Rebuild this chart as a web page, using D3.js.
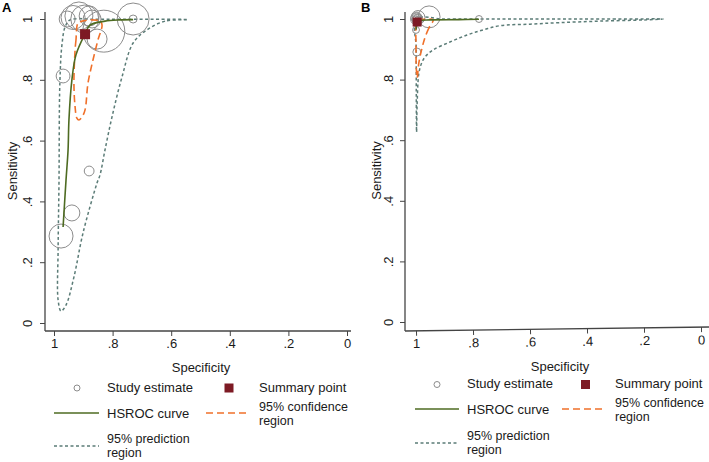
<!DOCTYPE html>
<html>
<head>
<meta charset="utf-8">
<script src="https://cdn.jsdelivr.net/npm/d3@7"></script>
<style>
html,body{margin:0;padding:0;background:#fff;}
svg{display:block;font-family:"Liberation Sans",Arial,sans-serif;}
</style>
</head>
<body>
<svg id="chart" width="709" height="462"></svg>
<script>
// ---------- DATA ----------
const tickValues = [0, 0.2, 0.4, 0.6, 0.8, 1];
const tickLabels = ["0", ".2", ".4", ".6", ".8", "1"];
const xTitle = "Specificity";
const yTitle = "Sensitivity";
const legendLabels = ["Study estimate", "Summary point", "HSROC curve", "95% confidence region", "95% prediction region"];

// Panel A
const studyA_spec   = [0.969, 0.880, 0.939, 0.976, 0.730, 0.730, 0.830, 0.853, 0.955, 0.935, 0.915, 0.895, 0.870, 0.880];
const studyA_sens   = [0.8125, 0.50, 0.362, 0.286, 1.000, 1.000, 0.960, 0.934, 1.000, 1.005, 1.010, 1.000, 1.000, 1.010];
const studyA_weight = [12, 6, 16, 36, 64, 4, 110, 25, 16, 36, 49, 49, 20, 25];
const summaryA = {spec: 0.894, sens: 0.950};
const hsrocA_spec = [0.969, 0.959, 0.952, 0.949, 0.939, 0.925, 0.894, 0.877, 0.826, 0.775, 0.730];
const hsrocA_sens = [0.316, 0.470, 0.569, 0.668, 0.799, 0.882, 0.951, 0.980, 0.993, 0.997, 0.998];
const confA_spec = [0.918, 0.925, 0.928, 0.932, 0.928, 0.922, 0.915, 0.904, 0.894, 0.884, 0.867, 0.850, 0.836, 0.843, 0.877, 0.904];
const confA_sens = [0.987, 0.931, 0.898, 0.789, 0.711, 0.674, 0.668, 0.678, 0.701, 0.789, 0.865, 0.931, 0.980, 0.993, 0.997, 0.993];
const predA_spec = [0.543, 0.621, 0.683, 0.730, 0.768, 0.802, 0.826, 0.843, 0.853, 0.901, 0.932, 0.959, 0.976, 0.986, 0.986, 0.983, 0.980, 0.973, 0.962, 0.945, 0.860, 0.775, 0.660];
const predA_sens = [0.998, 0.993, 0.964, 0.921, 0.809, 0.678, 0.569, 0.487, 0.461, 0.296, 0.151, 0.059, 0.039, 0.076, 0.240, 0.461, 0.789, 0.914, 0.974, 0.997, 0.999, 0.999, 0.999];

// Panel B
const studyB_spec   = [0.998, 0.995, 1.000, 0.993, 0.990, 0.996, 0.998, 0.992, 0.997, 0.954, 0.779, 1.000, 0.997];
const studyB_sens   = [1.000, 0.998, 0.997, 1.005, 0.995, 1.000, 0.995, 0.998, 1.008, 1.007, 1.000, 0.964, 0.891];
const studyB_weight = [9, 6, 4, 12, 2, 6, 2, 3, 5, 30, 3, 3, 4];
const summaryB = {spec: 0.996, sens: 0.990};
const hsrocB_spec = [0.999, 0.997, 0.990, 0.950, 0.850, 0.779];
const hsrocB_sens = [0.965, 0.990, 0.995, 0.997, 0.998, 0.999];
const confB_spec = [0.940, 0.955, 0.968, 0.980, 0.990, 0.996, 0.999, 1.000, 0.999, 0.990, 0.970];
const confB_sens = [0.997, 0.970, 0.940, 0.900, 0.855, 0.805, 0.840, 0.920, 0.980, 0.996, 0.999];
const predB_spec = [0.133, 0.300, 0.500, 0.700, 0.900, 0.998, 0.999, 0.999, 0.998, 0.996, 0.990, 0.980, 0.968, 0.940, 0.881, 0.821, 0.765, 0.705, 0.600, 0.495, 0.354, 0.200];
const predB_sens = [1.000, 1.000, 1.000, 1.000, 1.000, 1.000, 0.900, 0.750, 0.627, 0.720, 0.820, 0.855, 0.875, 0.898, 0.924, 0.947, 0.964, 0.978, 0.983, 0.988, 0.993, 0.997];

// ---------- STYLE ----------
const C = {
  text: "#1a1a1a", axis: "#444", circle: "#8c8c8c",
  hsroc: "#4e6b22", conf: "#f0702a", pred: "#5b7c77", summary: "#7d1a24"
};

const svg = d3.select("#chart");
const zip = (a, b) => a.map((v, i) => [v, b[i]]);
const rScale = d3.scaleSqrt().domain([0, 100]).range([0, 20]);

const panels = [
  {
    label: "A", lx: 2, ly: 12,
    xr: [54, 347], yr: [323, 19], axX: 45, axY: 331, yTop: 12, xRight: 351, tilt: 0,
    yLabX: 17, xLabX: 201, xLabY: 371.5, tickLabOff: 13,
    study: {spec: studyA_spec, sens: studyA_sens, w: studyA_weight},
    summary: summaryA, sq: 10,
    hsroc: zip(hsrocA_spec, hsrocA_sens), conf: zip(confA_spec, confA_sens), pred: zip(predA_spec, predA_sens),
    leg: {x0: 54, x1: 99, tx: 107, cx: 77, sqx: 229, ox0: 206, ox1: 247, tx2: 259, y1: 392, ly1: 388, y2: 413, y3: 446}
  },
  {
    label: "B", lx: 361, ly: 12,
    xr: [416, 701], yr: [322, 19], axX: 405, axY: 331, yTop: 12, xRight: 709, tilt: -0.75,
    yLabX: 381, xLabX: 560, xLabY: 371, tickLabOff: 12,
    study: {spec: studyB_spec, sens: studyB_sens, w: studyB_weight},
    summary: summaryB, sq: 9,
    hsroc: zip(hsrocB_spec, hsrocB_sens), conf: zip(confB_spec, confB_sens), pred: zip(predB_spec, predB_sens),
    leg: {x0: 415, x1: 459, tx: 467, cx: 437, sqx: 585.5, ox0: 562, ox1: 605, tx2: 615, y1: 388, ly1: 384.5, y2: 409, y3: 443}
  }
];

panels.forEach(p => {
  const g = svg.append("g");
  const x = d3.scaleLinear().domain([1, 0]).range(p.xr);
  const y = d3.scaleLinear().domain([0, 1]).range(p.yr);

  g.append("line").attr("x1", p.axX).attr("x2", p.axX).attr("y1", p.yTop).attr("y2", p.axY)
    .attr("stroke", C.axis).attr("stroke-width", 1.3);

  const ya = g.append("g").attr("transform", `translate(${p.axX},0)`)
    .call(d3.axisLeft(y).tickValues(tickValues).tickFormat((d, i) => tickLabels[i]).tickSize(5));
  ya.select(".domain").remove();
  ya.selectAll(".tick line").attr("stroke", C.axis);
  ya.selectAll(".tick text")
    .attr("transform", "rotate(-90)").attr("x", 0).attr("y", -p.tickLabOff).attr("dy", 0)
    .attr("text-anchor", "middle").attr("fill", C.text)
    .style("font-size", "13px").style("font-family", "Liberation Sans, Arial, sans-serif");

  const xg = g.append("g").attr("transform", `rotate(${p.tilt},${p.axX},${p.axY})`);
  xg.append("line").attr("x1", p.axX).attr("x2", p.xRight).attr("y1", p.axY).attr("y2", p.axY)
    .attr("stroke", C.axis).attr("stroke-width", 1.3);
  const xa = xg.append("g").attr("transform", `translate(0,${p.axY})`)
    .call(d3.axisBottom(x).tickValues(tickValues).tickFormat((d, i) => tickLabels[i]).tickSize(5).tickPadding(3));
  xa.select(".domain").remove();
  xa.selectAll(".tick line").attr("stroke", C.axis);
  xa.selectAll(".tick text").attr("fill", C.text)
    .style("font-size", "13px").style("font-family", "Liberation Sans, Arial, sans-serif");

  g.append("text").attr("transform", `translate(${p.yLabX},${(p.yr[0] + p.yr[1]) / 2}) rotate(-90)`)
    .attr("text-anchor", "middle").attr("fill", C.text).style("font-size", "13px").text(yTitle);
  g.append("text").attr("x", p.xLabX).attr("y", p.xLabY).attr("text-anchor", "middle")
    .attr("fill", C.text).style("font-size", "13px").text(xTitle);
  g.append("text").attr("x", p.lx).attr("y", p.ly).attr("fill", "#000")
    .style("font-size", "13px").style("font-weight", "bold").text(p.label);

  const closed = d3.line().x(d => x(d[0])).y(d => y(d[1])).curve(d3.curveCatmullRomClosed.alpha(0.5));
  const open = d3.line().x(d => x(d[0])).y(d => y(d[1])).curve(d3.curveCatmullRom.alpha(0.5));

  g.append("path").datum(p.pred).attr("d", closed)
    .attr("fill", "none").attr("stroke", C.pred).attr("stroke-width", 1.5).attr("stroke-dasharray", "3,2.5");

  const st = p.study;
  g.selectAll("circle.study").data(st.spec.map((s, i) => ({s, se: st.sens[i], w: st.w[i]})))
    .enter().append("circle").attr("class", "study")
    .attr("cx", d => x(d.s)).attr("cy", d => y(d.se)).attr("r", d => rScale(d.w))
    .attr("fill", "none").attr("stroke", C.circle).attr("stroke-width", 1);

  g.append("path").datum(p.conf).attr("d", closed)
    .attr("fill", "none").attr("stroke", C.conf).attr("stroke-width", 1.6).attr("stroke-dasharray", "7,4");

  g.append("path").datum(p.hsroc).attr("d", open)
    .attr("fill", "none").attr("stroke", C.hsroc).attr("stroke-width", 1.6);

  g.append("rect").attr("x", x(p.summary.spec) - p.sq / 2).attr("y", y(p.summary.sens) - p.sq / 2)
    .attr("width", p.sq).attr("height", p.sq).attr("fill", C.summary);

  // legend
  const L = p.leg;
  const lg = g.append("g").style("font-size", "13px").attr("fill", C.text);
  lg.append("circle").attr("cx", L.cx).attr("cy", L.ly1).attr("r", 3).attr("fill", "none").attr("stroke", C.circle);
  lg.append("text").attr("x", L.tx).attr("y", L.y1).text(legendLabels[0]);
  lg.append("rect").attr("x", L.sqx - 4.5).attr("y", L.ly1 - 4.5).attr("width", 9).attr("height", 9).attr("fill", C.summary);
  lg.append("text").attr("x", L.tx2).attr("y", L.y1).text(legendLabels[1]);
  lg.append("line").attr("x1", L.x0).attr("x2", L.x1).attr("y1", L.y2).attr("y2", L.y2).attr("stroke", C.hsroc).attr("stroke-width", 1.6);
  lg.append("text").attr("x", L.tx).attr("y", L.y2 + 4.5).text(legendLabels[2]);
  lg.append("line").attr("x1", L.ox0).attr("x2", L.ox1).attr("y1", L.y2).attr("y2", L.y2).attr("stroke", C.conf).attr("stroke-width", 1.6).attr("stroke-dasharray", "7,4");

  const wrap2 = (label, xx, yy) => {
    const w = label.split(" ");
    lg.append("text").attr("x", xx).attr("y", yy).style("font-size", "12.5px").text(w.slice(0, 2).join(" "));
    lg.append("text").attr("x", xx).attr("y", yy + 14.2).style("font-size", "12.5px").text(w.slice(2).join(" "));
  };
  wrap2(legendLabels[3], L.tx2, L.y2 - 2);
  lg.append("line").attr("x1", L.x0).attr("x2", L.x1).attr("y1", L.y3).attr("y2", L.y3).attr("stroke", C.pred).attr("stroke-width", 1.5).attr("stroke-dasharray", "3,2.5");
  wrap2(legendLabels[4], L.tx, L.y3 - 3.5);
});
</script>
</body>
</html>
